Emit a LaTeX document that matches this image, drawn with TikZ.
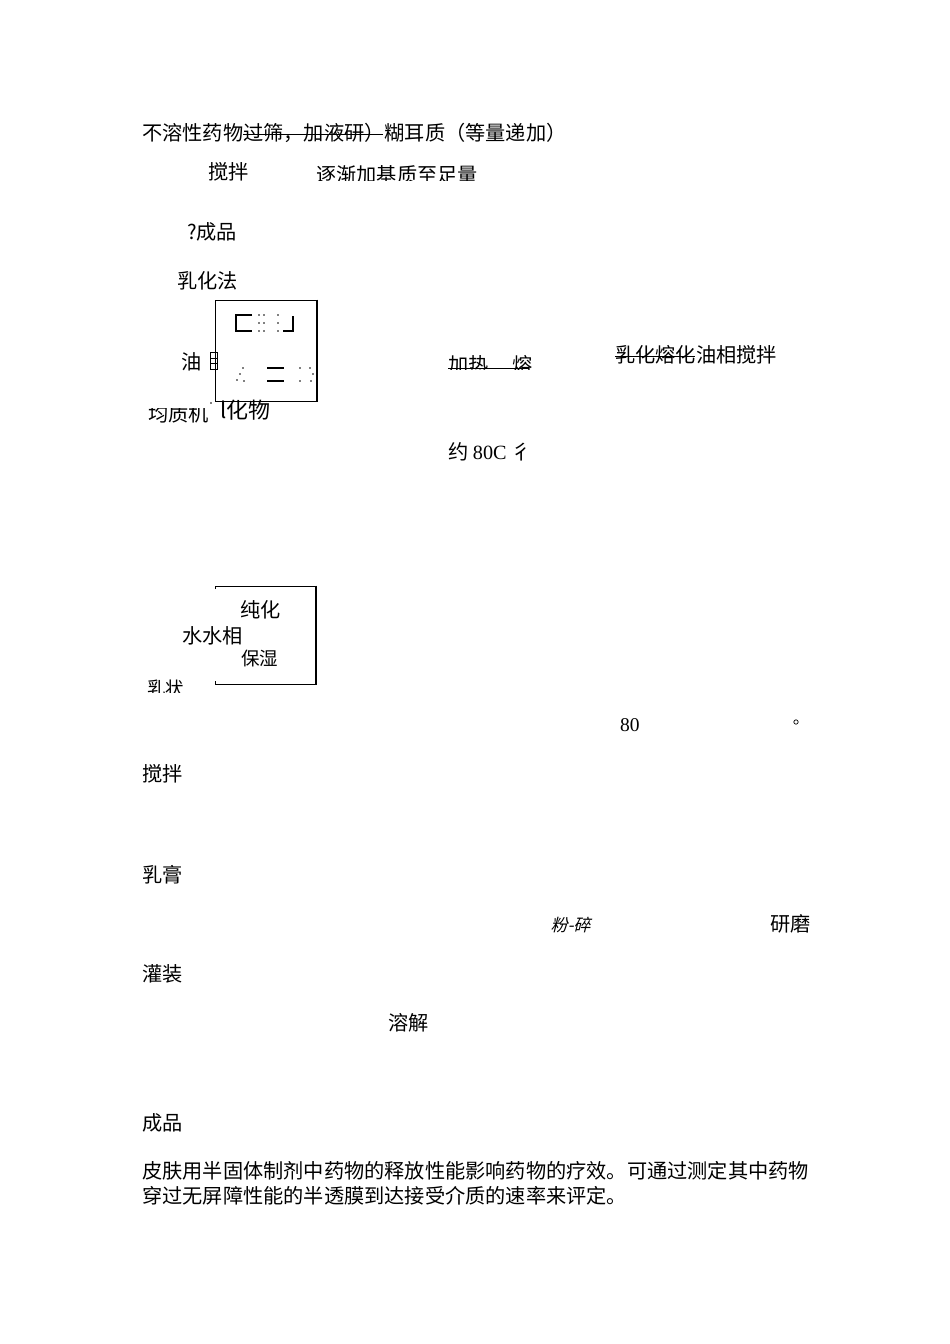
\documentclass[tikz,border=0pt]{standalone}
\usepackage{fontspec}
\setmainfont{Liberation Serif}
\newfontfamily\cjk{Noto Sans CJK SC}
\tikzset{
  txt/.style={inner sep=0pt, anchor=west, font=\cjk\fontsize{20.2}{22}\selectfont},
  small/.style={inner sep=0pt, anchor=west, font=\cjk\fontsize{18.5}{20}\selectfont},
  num/.style={inner sep=0pt, anchor=west, font=\rmfamily\fontsize{19.5}{22}\selectfont},
  dot/.style={fill, circle, inner sep=0pt, minimum size=1.6pt}
}
\begin{document}
\begin{tikzpicture}[x=1pt,y=-1pt]
  \useasboundingbox[fill=white] (0,0) rectangle (950,1344);
  % first paragraph
  \node[txt] (insol) at (142,133) {不溶性药物过筛，加液研）糊耳质（等量递加）};
  \draw[line width=1pt] (243,134) -- (383,134); % strike
  \node[txt] (stir1) at (208,172) {搅拌};
  \begin{scope}
    \clip (300,150) rectangle (500,180);
    \node[txt] (addbase) at (316,175) {逐渐加基质至足量};
  \end{scope}
  \node[txt] (prod1) at (187,232) {?成品};
  \node[txt] (emulsify) at (177,281) {乳化法};
  % upper box
  \draw[line width=1pt] (215,300) -- (317,300);
  \draw[line width=1pt] (215,300) -- (215,401) -- (317,401);
  \draw[line width=2pt] (317,299.5) -- (317,401.5);
  % garbled glyphs inside
  \draw[line width=1.2pt] (252,315) -- (236,315) -- (236,331) -- (252,331);
  \draw[line width=1.2pt] (283,331) -- (293,331) -- (293,316);
  \foreach \x in {259,264,278}
    \foreach \y in {315,323,331}
      \node[dot] at (\x,\y) {};
  \foreach \x/\y in {240/374, 237/380, 244/381, 243/368, 300/368, 310/368, 300/381, 313/374, 311/381}
    \node[dot] at (\x,\y) {};
  \draw[line width=1.2pt] (267,368) -- (284,368);
  \draw[line width=1.2pt] (267,381) -- (284,381);
  \node[txt] (oil) at (181,362) {油};
  \draw[line width=1pt] (210,352) rectangle (217,369);
  \draw[line width=1pt] (210,358) -- (217,358) (210,363) -- (217,363);
  \begin{scope}
    \clip (140,408) rectangle (210,428);
    \node[txt] (homog) at (148,414) {均质机};
  \end{scope}
  \node[dot] at (211,403) {};
  \node[inner sep=0pt, anchor=west, font=\cjk\fontsize{22}{24}\selectfont] (compound) at (220,410) {l化物};
  \begin{scope}
    \clip (440,345) rectangle (540,369);
    \node[txt] (heat) at (448,365) {加热\hspace{1.2em}熔};
  \end{scope}
  \draw[line width=1pt] (448,368) -- (529,368); % underline
  \node[txt] (oilphase) at (615,355) {乳化熔化油相搅拌};
  \draw[line width=1pt] (615,356) -- (695,356); % strike
  \node[txt] (temp1) at (448,452) {约 {\rmfamily 80C} 彳};
  % lower box
  \draw[line width=1pt] (215,589) -- (215,586) -- (316,586);
  \draw[line width=1pt] (215,681) -- (215,684) -- (316,684);
  \draw[line width=2pt] (316,585.5) -- (316,684.5);
  \node[txt] (purified) at (240,610) {纯化};
  \node[txt] (water) at (182,636) {水水相};
  \node[small] (humect) at (241,658) {保湿};
  \begin{scope}
    \clip (140,675) rectangle (200,692);
    \node[small] (creamy) at (147,688) {乳状};
  \end{scope}
  \node[num] (temp2) at (620,725) {80};
  \draw[line width=0.7pt] (796,722) circle (2.2);
  \node[txt] (stir2) at (142,774) {搅拌};
  \node[txt] (cream) at (142,875) {乳膏};
  \node[inner sep=0pt, anchor=west, font=\cjk\fontsize{17}{20}\selectfont, xslant=0.25] (crush) at (552,925) {粉-碎};
  \node[txt] (grind) at (770,924) {研磨};
  \node[txt] (fill) at (142,974) {灌装};
  \node[txt] (dissolve) at (388,1023) {溶解};
  \node[txt] (prod2) at (142,1123) {成品};
  % closing paragraph
  \node[txt] (para1) at (142,1171) {皮肤用半固体制剂中药物的释放性能影响药物的疗效。可通过测定其中药物};
  \node[txt] (para2) at (142,1196) {穿过无屏障性能的半透膜到达接受介质的速率来评定。};
\end{tikzpicture}
\end{document}
